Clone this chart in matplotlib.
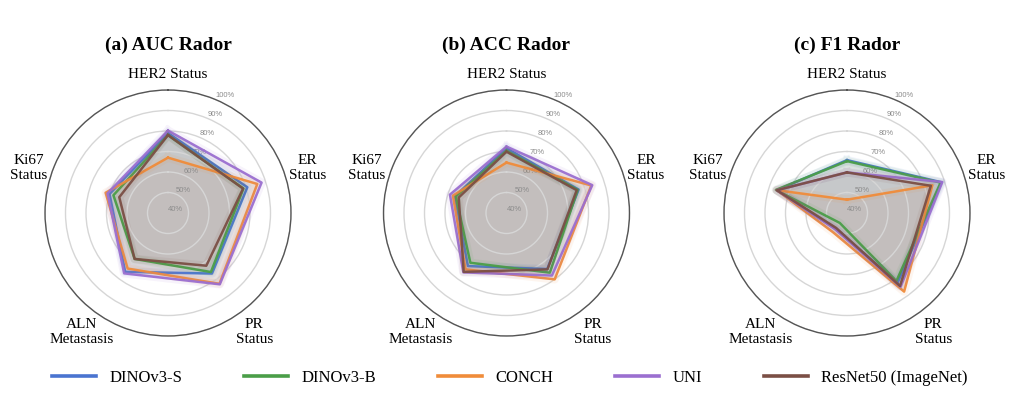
# Radar charts of AUC / ACC / F1 for five feature extractors

import numpy as np
import matplotlib.pyplot as plt
from matplotlib.lines import Line2D

categories = ["HER2 Status", "ER\nStatus", "PR\nStatus", "ALN\nMetastasis", "Ki67\nStatus"]
models = ["DINOv3-S", "DINOv3-B", "CONCH", "UNI", "ResNet50 (ImageNet)"]
colors = ['#4a74d0', '#4a9e48', '#f08c3a', '#9b6fd0', '#7b4f45']

# values in %, order of categories: HER2, ER, PR, ALN, Ki67
auc_values = [
    [79.0, 80.7, 76.5, 75.5, 70.0],   # DINOv3-S
    [78.0, 78.7, 75.6, 67.7, 68.0],   # DINOv3-B
    [67.0, 85.8, 82.7, 73.5, 72.0],   # CONCH
    [80.2, 88.0, 83.0, 76.4, 71.0],   # UNI
    [78.0, 78.5, 71.8, 67.7, 65.0],   # ResNet50
]
acc_values = [
    [71.6, 77.0, 73.8, 72.0, 66.5],
    [70.4, 76.5, 76.0, 70.0, 66.0],
    [64.6, 83.5, 80.0, 74.0, 67.5],
    [72.4, 84.0, 77.7, 75.8, 69.0],
    [69.9, 76.0, 74.0, 75.5, 64.5],
]
f1_values = [
    [65.8, 88.5, 82.0, 49.5, 76.0],
    [65.3, 88.0, 81.0, 46.0, 76.5],
    [46.5, 83.8, 87.4, 51.6, 76.0],
    [59.8, 88.9, 84.5, 49.8, 76.0],
    [59.8, 83.0, 84.0, 49.0, 76.0],
]
titles = ["(a) AUC Rador", "(b) ACC Rador", "(c) F1 Rador"]
r_ticks = [40, 50, 60, 70, 80, 90, 100]

serif = ['Liberation Serif', 'DejaVu Serif']

fig = plt.figure(figsize=(10.24, 3.93), dpi=100)

angles = np.linspace(0, 2 * np.pi, len(categories), endpoint=False)
angles_closed = np.concatenate([angles, angles[:1]])

# panel centres (pixels) and radius
centres = [168, 506.5, 847]
cy, R = 213, 123
W, H = 1024, 393

for k, (data, title) in enumerate(zip([auc_values, acc_values, f1_values], titles)):
    ax = fig.add_axes([(centres[k] - R) / W, (H - cy - R) / H, 2 * R / W, 2 * R / H],
                      projection='polar')
    ax.set_theta_offset(np.pi / 2)
    ax.set_theta_direction(-1)
    ax.set_ylim(40, 100)

    for vals, c in zip(data, colors):
        v = vals + vals[:1]
        ax.plot(angles_closed, v, color=c, lw=6, alpha=0.08, solid_joinstyle='round')
        ax.fill(angles_closed, v, color=c, alpha=0.06, lw=0)
        ax.fill(angles_closed, v, color='#8c8a85', alpha=0.07, lw=0)  # grey shading
        ax.plot(angles_closed, v, color=c, lw=1.8, alpha=0.95)

    ax.set_xticks(angles)
    ax.set_xticklabels([])
    ax.xaxis.grid(False)
    ax.set_yticks(r_ticks)
    ax.set_yticklabels([f"{t}%" for t in r_ticks], fontsize=5.5, color='#8c8c8c',
                       family=['Liberation Sans', 'DejaVu Sans'])
    ax.set_rlabel_position(22.5)
    ax.yaxis.grid(True, color='#d6d6d6', lw=1.0)
    ax.spines['polar'].set_color('#555555')
    ax.spines['polar'].set_linewidth(1.0)

    for a, lab in zip(angles, categories):
        r = 107.5 if "\n" not in lab else 111.5
        ax.text(a, r, lab, ha='center', va='center', fontsize=11,
                family=serif, clip_on=False)

    ax.text(0.5, 1.183, title, transform=ax.transAxes, ha='center', va='center',
            fontsize=14, fontweight='bold', family=serif)

handles = [Line2D([0], [0], color=c, lw=2.6) for c in colors]
fig.legend(handles, models, loc='center', bbox_to_anchor=(0.498, 1 - 378 / H),
           ncol=5, frameon=False, handlelength=2.65, columnspacing=3.7,
           handletextpad=0.8, prop={'family': serif, 'size': 12})

fig.savefig("out.png", dpi=100)
